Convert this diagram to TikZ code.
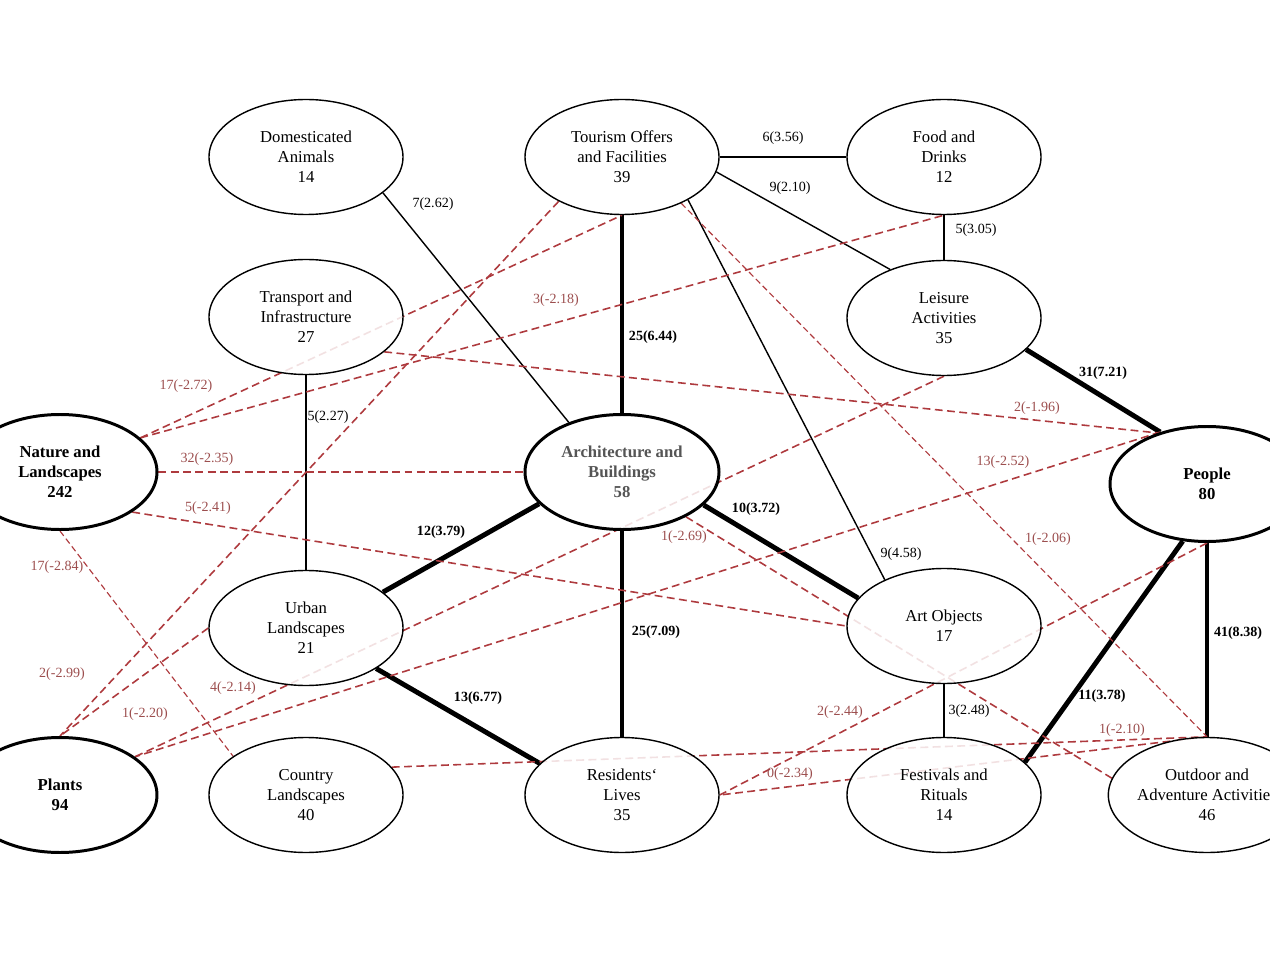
\documentclass[tikz,border=0pt]{standalone}
\usepackage{fontspec}
\setmainfont{Liberation Serif}
\usetikzlibrary{shapes.geometric, backgrounds}

\definecolor{negred}{HTML}{AE3A3E}
\definecolor{neglab}{HTML}{9C4E4E}
\definecolor{archgray}{HTML}{555555}

\begin{document}
\begin{tikzpicture}[
    cat/.style={ellipse, draw, line width=0.8pt, fill=white, fill opacity=0.85, text opacity=1,
        minimum width=3.88cm, minimum height=2.3cm, inner sep=0pt, align=center,
        font=\fontsize{9.5}{11.4}\selectfont},
    key/.style={cat, line width=1.7pt, font=\fontsize{9.5}{11.4}\selectfont\bfseries},
    link/.style={line width=0.8pt},
    stronglink/.style={line width=2.8pt},
    antilink/.style={draw=negred, line width=0.9pt, dash pattern=on 4.5pt off 2.5pt},
    thinner/.style={line width=0.65pt, dash pattern=on 3.5pt off 2pt},
    lab/.style={font=\fontsize{8}{9}\selectfont, inner sep=1pt},
    blab/.style={lab, font=\fontsize{8}{9}\selectfont\bfseries},
    nlab/.style={lab, text=neglab}
]
    \useasboundingbox (0,0) rectangle (25.4,-19.06);

    % categories
    \node[cat] (dom)     at (6.12,-3.14)  {Domesticated\\Animals\\14};
    \node[cat] (tour)    at (12.44,-3.14) {Tourism Offers\\and Facilities\\39};
    \node[cat] (food)    at (18.88,-3.14) {Food and\\Drinks\\12};
    \node[cat] (trans)   at (6.12,-6.34)  {Transport and\\Infrastructure\\27};
    \node[cat] (leis)    at (18.88,-6.36) {Leisure\\Activities\\35};
    \node[key] (nat)     at (1.2,-9.44)   {Nature and\\Landscapes\\242};
    \node[key, text=archgray] (arch) at (12.44,-9.44) {Architecture and\\Buildings\\58};
    \node[key] (people)  at (24.14,-9.68) {People\\80};
    \node[cat] (urban)   at (6.12,-12.56) {Urban\\Landscapes\\21};
    \node[cat] (art)     at (18.88,-12.52) {Art Objects\\17};
    \node[key] (plants)  at (1.2,-15.9)   {Plants\\94};
    \node[cat] (country) at (6.12,-15.9)  {Country\\Landscapes\\40};
    \node[cat] (res)     at (12.44,-15.9) {Residents‘\\Lives\\35};
    \node[cat] (fest)    at (18.88,-15.9) {Festivals and\\Rituals\\14};
    \node[cat] (out)     at (24.14,-15.9) {Outdoor and\\Adventure Activities\\46};

    \begin{pgfonlayer}{background}
    % positive links
    \draw[link] (dom.-25) -- (arch.137);
    \draw[link] (tour.east) -- (food.west);
    \draw[link] (tour.-9) -- (leis.138);
    \draw[link] (food.south) -- (leis.north);
    \draw[link] (tour.-33) -- (art.142);
    \draw[link] (trans.south) -- (urban.north);
    \draw[link] (art.south) -- (fest.north);
    \draw[stronglink] (tour.south) -- (arch.north);
    \draw[stronglink] (leis.-21) -- (people.132);
    \draw[stronglink] (arch.201) -- (urban.25);
    \draw[stronglink] (arch.-22) -- (art.162);
    \draw[stronglink] (arch.south) -- (res.north);
    \draw[stronglink] (urban.-30) -- (res.159);
    \draw[stronglink] (people.-113) -- (fest.22);
    \draw[stronglink] (people.south) -- (out.north);
    % negative links
    \draw[antilink] (nat.23) -- (tour.south);
    \draw[antilink] (nat.23) -- (food.south);
    \draw[antilink] (nat.east) -- (arch.west);
    \draw[antilink] (nat.-29) -- (art.west);
    \draw[antilink, thinner] (nat.south) -- (country.152);
    \draw[antilink] (tour.215) -- (plants.north);
    \draw[antilink] (urban.west) -- (plants.north);
    \draw[antilink] (leis.south) -- (plants.27);
    \draw[antilink] (people.132) -- (plants.27);
    \draw[antilink] (trans.-24) -- (people.134);
    \draw[antilink, thinner] (tour.-38) -- (out.north);
    \draw[antilink] (arch.-35) -- (out.170);
    \draw[antilink] (people.south) -- (res.east);
    \draw[antilink] (out.north) -- (res.east);
    \draw[antilink] (country.18) -- (out.north);
    \end{pgfonlayer}

    % labels
    \node[lab]  (l1)  at (8.66,-4.08)   {7(2.62)};
    \node[lab]  (l2)  at (15.66,-2.76)  {6(3.56)};
    \node[lab]  (l3)  at (15.8,-3.76)   {9(2.10)};
    \node[lab]  (l4)  at (19.52,-4.6)   {5(3.05)};
    \node[blab] (l5)  at (13.06,-6.74)  {25(6.44)};
    \node[nlab] (l6)  at (11.12,-6.0)   {3(-2.18)};
    \node[nlab] (l7)  at (3.72,-7.72)   {17(-2.72)};
    \node[lab]  (l8)  at (6.56,-8.34)   {5(2.27)};
    \node[blab] (l9)  at (22.06,-7.46)  {31(7.21)};
    \node[nlab] (l10) at (20.74,-8.16)  {2(-1.96)};
    \node[nlab] (l11) at (4.14,-9.18)   {32(-2.35)};
    \node[nlab] (l12) at (20.06,-9.24)  {13(-2.52)};
    \node[nlab] (l13) at (4.16,-10.16)  {5(-2.41)};
    \node[blab] (l14) at (8.82,-10.64)  {12(3.79)};
    \node[blab] (l15) at (15.12,-10.18) {10(3.72)};
    \node[nlab] (l16) at (13.68,-10.74) {1(-2.69)};
    \node[lab]  (l17) at (18.02,-11.08) {9(4.58)};
    \node[nlab] (l18) at (20.96,-10.78) {1(-2.06)};
    \node[nlab] (l19) at (1.14,-11.34)  {17(-2.84)};
    \node[blab] (l20) at (13.12,-12.64) {25(7.09)};
    \node[blab] (l21) at (24.76,-12.66) {41(8.38)};
    \node[nlab] (l22) at (1.24,-13.48)  {2(-2.99)};
    \node[nlab] (l23) at (4.66,-13.76)  {4(-2.14)};
    \node[blab] (l24) at (9.56,-13.96)  {13(6.77)};
    \node[blab] (l25) at (22.04,-13.92) {11(3.78)};
    \node[nlab] (l26) at (2.9,-14.28)   {1(-2.20)};
    \node[nlab] (l27) at (16.8,-14.24)  {2(-2.44)};
    \node[lab]  (l28) at (19.38,-14.22) {3(2.48)};
    \node[nlab] (l29) at (22.44,-14.6)  {1(-2.10)};
    \node[nlab] (l30) at (15.8,-15.48)  {0(-2.34)};
\end{tikzpicture}
\end{document}
